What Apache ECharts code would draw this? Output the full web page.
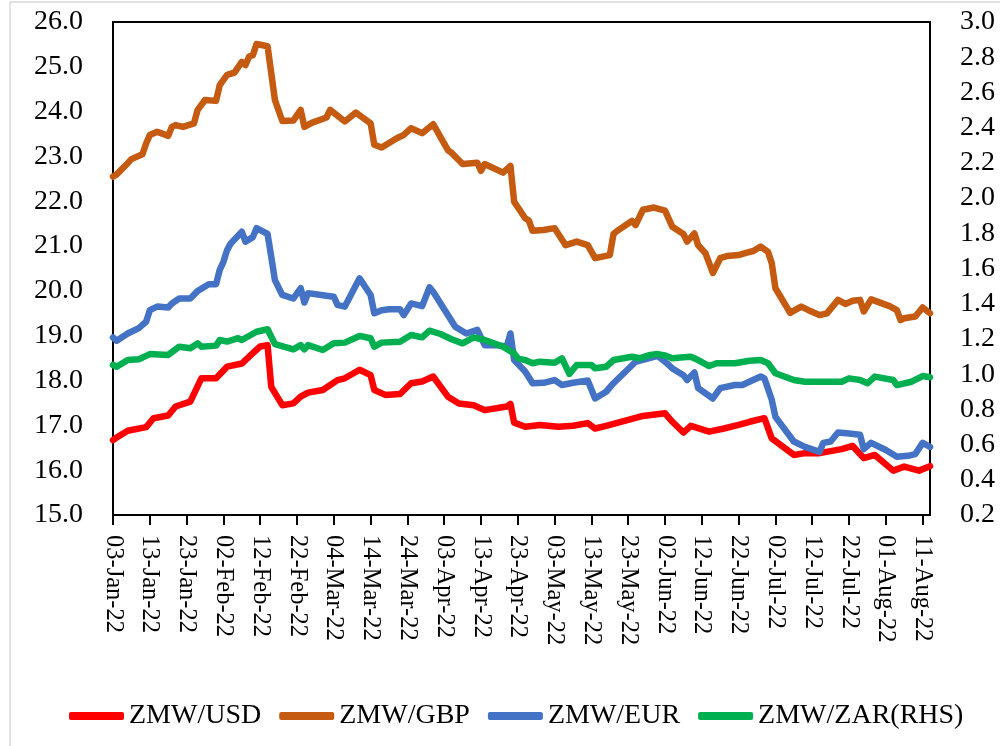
<!DOCTYPE html>
<html>
<head>
<meta charset="utf-8">
<script src="https://cdn.jsdelivr.net/npm/echarts@6/dist/echarts.min.js"></script>
<style>
html,body{margin:0;padding:0;background:#fff;}
#chart{width:1000px;height:746px;}
</style>
</head>
<body>
<div id="chart"></div>
<script>
// Days counted from 03-Jan-22
const usdDays = [0,1,4,9,11,15,17,21,24,28,31,35,38,40,42,43,46,49,51,53,57,61,63,67,70,71,74,78,81,84,87,91,94,98,101,107,108,109,112,116,121,125,129,131,134,138,144,150,152,155,157,162,166,170,173,177,179,185,188,192,198,201,204,207,212,215,219,222];
const usdVals = [16.67,16.73,16.88,16.96,17.16,17.22,17.42,17.53,18.05,18.05,18.31,18.38,18.61,18.76,18.79,17.86,17.45,17.49,17.64,17.73,17.79,18.01,18.05,18.24,18.12,17.79,17.68,17.70,17.94,17.98,18.09,17.64,17.49,17.45,17.34,17.42,17.48,17.06,16.97,17.01,16.97,16.99,17.05,16.93,16.99,17.08,17.21,17.27,17.08,16.84,16.99,16.86,16.93,17.01,17.08,17.16,16.71,16.34,16.38,16.38,16.47,16.54,16.27,16.34,15.99,16.08,15.99,16.09];

const gbpDays = [0,1,4,5,8,9,10,12,15,16,17,19,22,23,25,28,29,31,33,35,36,37,38,39,42,44,46,49,51,52,54,58,59,63,66,70,71,73,77,79,81,84,87,91,92,95,99,100,101,106,108,109,112,113,114,117,120,123,126,129,131,135,136,137,141,142,144,147,150,152,155,156,158,159,161,163,165,167,170,172,174,176,178,179,180,184,187,189,192,194,197,199,201,203,204,206,211,213,214,215,218,220,222];
const gbpVals = [22.55,22.60,22.85,22.94,23.05,23.29,23.48,23.55,23.46,23.66,23.70,23.66,23.74,24.04,24.26,24.24,24.59,24.82,24.87,25.11,25.04,25.23,25.26,25.51,25.46,24.26,23.79,23.80,24.04,23.66,23.75,23.87,24.04,23.78,23.98,23.74,23.26,23.20,23.40,23.48,23.63,23.52,23.72,23.14,23.08,22.83,22.86,22.68,22.83,22.64,22.79,21.99,21.62,21.57,21.34,21.36,21.40,21.02,21.10,21.02,20.73,20.80,21.27,21.34,21.56,21.47,21.81,21.86,21.79,21.43,21.27,21.10,21.28,21.02,20.84,20.40,20.73,20.78,20.80,20.85,20.89,20.99,20.87,20.62,20.06,19.51,19.65,19.57,19.46,19.50,19.80,19.71,19.78,19.80,19.54,19.81,19.66,19.57,19.35,19.39,19.43,19.63,19.50];

const eurDays = [0,1,4,7,9,10,12,15,16,18,21,23,26,28,29,30,31,32,35,36,38,39,42,43,44,46,49,51,52,53,58,60,61,63,67,70,71,73,75,78,79,81,84,86,87,93,96,99,101,104,107,108,109,112,114,117,120,122,125,129,131,134,136,142,144,148,150,152,155,156,158,159,163,165,169,171,176,177,179,180,185,188,192,193,195,197,200,203,204,206,210,213,216,218,220,222];
const eurVals = [18.96,18.89,19.05,19.17,19.31,19.57,19.65,19.63,19.72,19.83,19.83,20.00,20.15,20.15,20.47,20.65,20.91,21.06,21.32,21.10,21.20,21.40,21.27,20.76,20.24,19.91,19.83,20.06,19.74,19.95,19.89,19.87,19.69,19.65,20.28,19.91,19.50,19.57,19.59,19.59,19.46,19.72,19.66,20.08,19.98,19.20,19.05,19.13,18.79,18.79,18.76,19.05,18.46,18.20,17.94,17.95,18.01,17.90,17.95,18.00,17.60,17.75,17.94,18.42,18.46,18.55,18.42,18.27,18.12,18.01,18.18,17.83,17.60,17.83,17.90,17.90,18.09,18.05,17.57,17.19,16.64,16.52,16.41,16.61,16.64,16.84,16.82,16.79,16.47,16.61,16.45,16.30,16.32,16.36,16.61,16.52];

const zarDays = [0,1,4,7,10,15,18,21,23,24,28,29,31,34,35,39,42,44,49,51,52,53,57,60,63,67,70,71,73,78,81,84,86,89,92,95,98,101,106,109,110,112,114,116,120,122,124,126,130,131,134,136,141,143,146,148,150,152,155,157,159,162,164,169,173,176,178,180,185,188,191,194,198,200,203,205,207,212,213,217,220,222];
const zarVals = [1.052,1.042,1.080,1.084,1.114,1.109,1.156,1.147,1.175,1.156,1.162,1.194,1.185,1.204,1.194,1.241,1.255,1.171,1.141,1.165,1.141,1.165,1.137,1.175,1.179,1.217,1.204,1.156,1.179,1.184,1.222,1.209,1.247,1.228,1.198,1.175,1.209,1.194,1.156,1.118,1.090,1.080,1.062,1.071,1.065,1.090,1.001,1.052,1.052,1.033,1.042,1.080,1.099,1.090,1.109,1.114,1.106,1.090,1.096,1.099,1.080,1.046,1.062,1.062,1.076,1.080,1.062,1.005,0.967,0.957,0.957,0.957,0.957,0.976,0.967,0.948,0.986,0.967,0.938,0.957,0.989,0.982];

const seriesNames = ['ZMW/USD','ZMW/GBP','ZMW/EUR','ZMW/ZAR(RHS)'];
const seriesColors = ['#FF0000','#C55A11','#4472C4','#00B050'];
const tickDays = [0,10,20,30,40,50,60,70,80,90,100,110,120,130,140,150,160,170,180,190,200,210,220];
const startDate = [2022, 0, 3];
const monthNames = ['Jan','Feb','Mar','Apr','May','Jun','Jul','Aug','Sep','Oct','Nov','Dec'];

function dayLabel(d) {
  const dt = new Date(startDate[0], startDate[1], startDate[2] + d);
  const dd = String(dt.getDate()).padStart(2, '0');
  return dd + '-' + monthNames[dt.getMonth()] + '-' + String(dt.getFullYear()).slice(2);
}
function pairs(days, vals) { return days.map((d, i) => [d, vals[i]]); }

const font = 'Liberation Serif';
const chart = echarts.init(document.getElementById('chart'), null, {renderer: 'canvas'});

const mk = (i, days, vals, axis) => ({
  name: seriesNames[i], type: 'line', yAxisIndex: axis,
  data: pairs(days, vals), showSymbol: false, symbol: 'none',
  lineStyle: {color: seriesColors[i], width: 6.5, cap: 'round', join: 'round'},
  itemStyle: {color: seriesColors[i]},
  animation: false
});

chart.setOption({
  backgroundColor: '#fff',
  animation: false,
  graphic: [{
    type: 'rect', shape: {x: 10, y: 2, width: 1200, height: 1000},
    style: {fill: 'none', stroke: '#D9D9D9', lineWidth: 1.5}, silent: true, z: -1
  }],
  grid: {left: 113, right: 70, top: 22, bottom: 231, show: true, borderColor: '#000', borderWidth: 2, containLabel: false},
  legend: {
    data: seriesNames, left: 64, top: 697, itemWidth: 55, itemHeight: 8, itemGap: 18,
    icon: 'roundRect',
    textStyle: {fontFamily: font, fontSize: 28, color: '#000'}
  },
  xAxis: {
    type: 'value', min: 0, max: 222, interval: 10,
    splitLine: {show: false},
    axisLine: {show: true, lineStyle: {color: '#000', width: 2}},
    axisTick: {show: true, length: 10, inside: false, customValues: tickDays, lineStyle: {color: '#000', width: 2}},
    axisLabel: {
      rotate: -90, margin: 20, customValues: tickDays,
      fontFamily: font, fontSize: 24.5, color: '#000',
      formatter: v => dayLabel(v)
    }
  },
  yAxis: [{
    type: 'value', min: 15, max: 26, interval: 1, position: 'left',
    splitLine: {show: false},
    axisLine: {show: true, lineStyle: {color: '#000', width: 2}},
    axisTick: {show: false},
    axisLabel: {margin: 30, fontFamily: font, fontSize: 28, color: '#000', formatter: v => v.toFixed(1)}
  }, {
    type: 'value', min: 0.2, max: 3.0, interval: 0.2, position: 'right',
    splitLine: {show: false},
    axisLine: {show: true, lineStyle: {color: '#000', width: 2}},
    axisTick: {show: false},
    axisLabel: {margin: 30, fontFamily: font, fontSize: 28, color: '#000', formatter: v => v.toFixed(1)}
  }],
  series: [
    mk(0, usdDays, usdVals, 0),
    mk(1, gbpDays, gbpVals, 0),
    mk(2, eurDays, eurVals, 0),
    mk(3, zarDays, zarVals, 1)
  ]
});
</script>
</body>
</html>
